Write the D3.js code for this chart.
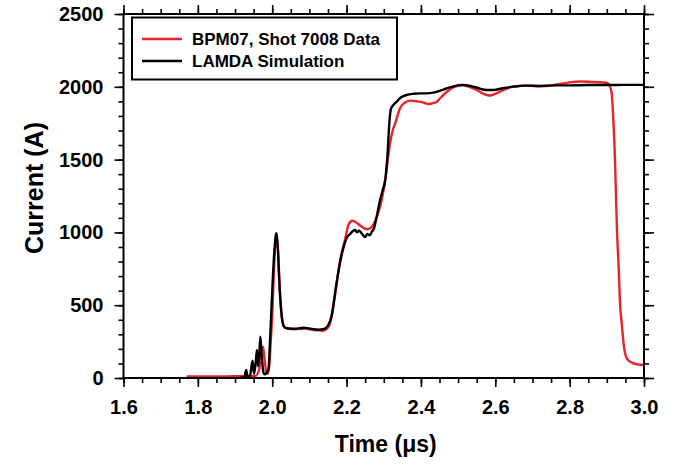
<!DOCTYPE html>
<html>
<head>
<meta charset="utf-8">
<script src="https://cdn.jsdelivr.net/npm/d3@7"></script>
<style>
  html, body { margin: 0; padding: 0; background: #ffffff; }
  svg { display: block; }
  text { font-family: "Liberation Sans", Arial, sans-serif; font-weight: bold; fill: #000; }
</style>
</head>
<body>
<svg id="chart" width="685" height="471"></svg>
<script>
// ---- Data ----
const xTicks = [1.6, 1.8, 2.0, 2.2, 2.4, 2.6, 2.8, 3.0];
const yTicks = [0, 500, 1000, 1500, 2000, 2500];
const seriesNames = ["BPM07, Shot 7008 Data", "LAMDA Simulation"];
const xLabel = "Time (\u03bcs)";
const yLabel = "Current (A)";

// BPM07 measured data: time (us), current (A)
const dataTime = [1.77,1.80,1.85,1.90,1.93,1.955,1.965,1.970,1.975,1.980,1.984,1.988,1.992,1.996,2.000,2.004,2.008,2.012,2.016,2.020,2.025,2.030,2.035,2.045,2.06,2.08,2.09,2.10,2.12,2.135,2.145,2.155,2.165,2.175,2.185,2.195,2.205,2.215,2.225,2.24,2.255,2.265,2.275,2.285,2.295,2.304,2.311,2.317,2.324,2.331,2.338,2.344,2.355,2.371,2.39,2.405,2.42,2.435,2.443,2.455,2.47,2.49,2.51,2.53,2.55,2.57,2.586,2.60,2.62,2.648,2.68,2.71,2.738,2.77,2.80,2.83,2.86,2.89,2.902,2.908,2.913,2.917,2.922,2.927,2.932,2.936,2.940,2.945,2.950,2.954,2.962,2.972,2.985,3.00];
const dataCurrent = [10,10,11,12,13,14,60,170,215,120,40,30,80,250,430,700,900,940,860,620,430,365,345,338,335,338,340,335,328,325,335,370,500,680,840,940,1050,1080,1070,1040,1022,1030,1070,1133,1230,1360,1500,1614,1700,1751,1810,1854,1888,1905,1900,1893,1882,1890,1898,1930,1966,2000,2012,2000,1978,1950,1940,1952,1975,2001,2008,2004,2005,2018,2030,2036,2034,2030,2025,2005,1955,1800,1497,1039,750,490,380,238,160,135,112,101,93,89];

// LAMDA simulation: time (us), current (A)
const simTime = [1.915,1.925,1.930,1.934,1.940,1.947,1.951,1.955,1.959,1.962,1.965,1.968,1.972,1.976,1.980,1.984,1.990,1.994,1.998,2.002,2.006,2.010,2.012,2.015,2.018,2.022,2.026,2.030,2.035,2.045,2.06,2.075,2.085,2.095,2.11,2.125,2.14,2.15,2.16,2.17,2.18,2.19,2.20,2.21,2.218,2.223,2.228,2.233,2.237,2.243,2.25,2.256,2.262,2.268,2.274,2.281,2.29,2.297,2.304,2.31,2.315,2.319,2.327,2.335,2.345,2.362,2.38,2.398,2.415,2.433,2.45,2.47,2.49,2.514,2.535,2.555,2.577,2.595,2.62,2.649,2.68,2.72,2.76,2.80,2.85,2.90,2.95,3.00];
const simCurrent = [3,5,55,8,12,119,30,90,192,80,150,284,150,40,25,30,60,250,480,700,880,985,995,900,720,536,420,360,345,340,338,342,345,342,335,332,338,360,430,600,760,880,960,990,1012,1016,1000,1012,1005,985,968,990,980,1005,1030,1108,1220,1290,1360,1530,1750,1845,1878,1898,1925,1944,1952,1955,1955,1960,1972,1990,2005,2012,2005,1990,1978,1978,1990,2001,2008,2006,2010,2010,2012,2012,2013,2013];

const colors = ["#e8232a", "#000000"];

// ---- Layout ----
const svg = d3.select("#chart");
const mLeft = 123.5, mRight = 644, mTop = 14, mBottom = 378;

const x = d3.scaleLinear().domain([1.6, 3.0]).range([mLeft, mRight]);
const y = d3.scaleLinear().domain([0, 2500]).range([mBottom, mTop]);

const xMinor = d3.range(1.6, 3.0001, 0.05).map(v => +v.toFixed(3));
const yMinor = d3.range(0, 2501, 100);

function axisGroup(axisFn, scale, tickVals, size, transform) {
  const g = svg.append("g").attr("transform", transform)
    .call(axisFn(scale).tickValues(tickVals).tickSize(size).tickFormat(""));
  g.select(".domain").remove();
  g.selectAll("line").attr("stroke", "#000").attr("stroke-width", 1.6);
  return g;
}

// minor ticks
axisGroup(d3.axisBottom, x, xMinor, 5, `translate(0,${mBottom})`);
axisGroup(d3.axisTop, x, xMinor, 5, `translate(0,${mTop})`);
axisGroup(d3.axisLeft, y, yMinor, 5, `translate(${mLeft},0)`);
axisGroup(d3.axisRight, y, yMinor, 5, `translate(${mRight},0)`);
// major ticks
axisGroup(d3.axisBottom, x, xTicks, 9, `translate(0,${mBottom})`);
axisGroup(d3.axisTop, x, xTicks, 9, `translate(0,${mTop})`);
axisGroup(d3.axisLeft, y, yTicks, 9, `translate(${mLeft},0)`);
axisGroup(d3.axisRight, y, yTicks, 10, `translate(${mRight},0)`);

// tick labels
const gxl = svg.append("g").attr("transform", `translate(0,${mBottom})`)
  .call(d3.axisBottom(x).tickValues(xTicks).tickSize(0).tickPadding(22).tickFormat(d3.format(".1f")));
gxl.select(".domain").remove();
gxl.selectAll("text").style("font-size", "20px").style("font-family", "'Liberation Sans', Arial, sans-serif").style("font-weight", "bold").attr("fill", "#000");

const gyl = svg.append("g").attr("transform", `translate(${mLeft},0)`)
  .call(d3.axisLeft(y).tickValues(yTicks).tickSize(0).tickPadding(20).tickFormat(d3.format("d")));
gyl.select(".domain").remove();
gyl.selectAll("text").style("font-size", "20px").style("font-family", "'Liberation Sans', Arial, sans-serif").style("font-weight", "bold").attr("fill", "#000");

// data lines
const line = d3.line().x(d => x(d[0])).y(d => y(d[1])).curve(d3.curveMonotoneX);
const dataPts = dataTime.map((t, i) => [t, dataCurrent[i]]);
const simPts = simTime.map((t, i) => [t, simCurrent[i]]);

svg.append("path").datum(dataPts).attr("d", line)
  .attr("fill", "none").attr("stroke", colors[0]).attr("stroke-width", 2.4).attr("stroke-linejoin", "round");
svg.append("path").datum(simPts).attr("d", line)
  .attr("fill", "none").attr("stroke", colors[1]).attr("stroke-width", 2.4).attr("stroke-linejoin", "round");

// frame
svg.append("rect").attr("x", mLeft).attr("y", mTop).attr("width", mRight - mLeft).attr("height", mBottom - mTop)
  .attr("fill", "none").attr("stroke", "#000").attr("stroke-width", 2);

// axis titles
svg.append("text").attr("x", (mLeft + mRight) / 2 + 2).attr("y", 452).attr("text-anchor", "middle")
  .style("font-size", "23px").text(xLabel);
svg.append("text").attr("transform", `translate(43,${188}) rotate(-90)`).attr("text-anchor", "middle")
  .style("font-size", "25px").text(yLabel);

// legend
const lg = svg.append("g");
lg.append("rect").attr("x", 132).attr("y", 17.5).attr("width", 265).attr("height", 62)
  .attr("fill", "#fff").attr("stroke", "#000").attr("stroke-width", 2);
seriesNames.forEach((name, i) => {
  const yy = 39 + i * 22;
  lg.append("line").attr("x1", 142).attr("x2", 182).attr("y1", yy).attr("y2", yy)
    .attr("stroke", colors[i]).attr("stroke-width", 2.4);
  lg.append("text").attr("x", 192).attr("y", yy + 6).style("font-size", "17px").text(name);
});
</script>
</body>
</html>
